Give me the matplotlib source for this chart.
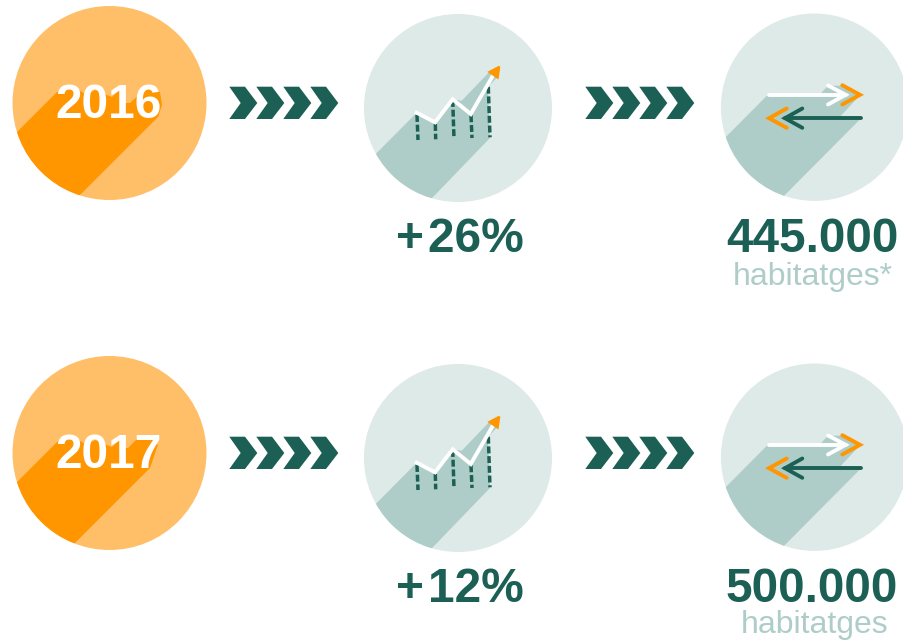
import matplotlib
matplotlib.use('Agg')
import matplotlib.pyplot as plt
from matplotlib.patches import Circle, Polygon

plt.rcParams['font.family'] = ['Liberation Sans', 'DejaVu Sans']

# colours
orange = '#FF9600'
orange_light = '#FFBF69'
green = '#1C6055'
green_light = '#DEEAE8'
green_mid = '#AECDC9'

# text of the two rows
years = ['2016', '2017']
growth = ['+\u200a26%', '+\u200a12%']
homes = ['445.000', '500.000']
homes_label = ['habitatges*', 'habitatges']
label_x = [813, 814.5]
label_y = [285.5, 633.5]

# vertical offset of each row, pixels
row_dy = [0, 350]

# circles: x, y, r
year_circle = (109.5, 103, 97)
chart_circle = (458, 108, 94)
swap_circle = (814.6, 107.2, 93.7)

# long shadows
year_shadow = [
    [(57, 92), (-10, 159), (58.3, 216.7), (158.3, 116.7), (162, 105), (160, 92), (150, 88), (141.7, 92),
     (130, 103), (124, 103), (121.7, 88), (112, 97), (95, 90), (87, 95), (75, 88)],
    [(57, 92), (-10, 159), (50, 218), (150, 118), (158, 95), (150, 88), (138, 88), (128, 98),
     (124, 98), (121.7, 88), (112, 97), (95, 90), (87, 95), (75, 88)],
]
chart_shadow = [(416.7, 112.7), (340, 190), (380, 252), (490, 138), (488, 87), (498.5, 76), (489.3, 72),
                (461.7, 100.7), (452.7, 99.3), (435, 122.3)]
swap_shadow = [(767.3, 95.3), (700, 163), (770, 210), (860.7, 118.7), (840, 116.7), (860, 95.3),
               (842.3, 85.7), (828, 85.7), (819, 95.3)]

# chevrons
chevron = [(229.3, 86.7), (245, 86.7), (257.3, 103), (245, 119), (229.3, 119), (240.7, 103)]
chevron_step = 27
chevron_groups = [0, 356]

# rising line icon
line_x = [416.7, 435, 452.7, 470.7, 493.3]
line_y = [112.7, 122.3, 99.3, 114, 75]
arrow_head = [(499.3, 66.7), (489.3, 72), (497.7, 77.7)]
bars_top = [(417, 115), (435.3, 124), (452.7, 100), (471, 115.3), (488.3, 86.7)]
bars_bottom = [(418, 140), (435.7, 139.3), (454, 138.7), (472, 138), (490, 137.3)]

# swap icon
white_line = [(769, 95.3), (845.7, 95.3)]
white_head = [(828, 86), (845.7, 95.3), (828, 105)]
orange_right = [(842.3, 85.7), (860, 95.3), (842.3, 105)]
dark_line = [(860.7, 118.7), (785, 118.7)]
dark_head = [(802.3, 109), (785, 118.7), (802.3, 128.3)]
orange_left = [(786.7, 109), (769, 118.7), (786.7, 128.3)]

fig = plt.figure(figsize=(9.04, 6.41), dpi=100)
ax = fig.add_axes([0, 0, 1, 1])
ax.set_xlim(0, 904)
ax.set_ylim(641, 0)
ax.axis('off')


def shift(points, dx, dy):
    return [(x + dx, y + dy) for x, y in points]


def disc(spec, dy, face, shadow_pts, shadow_col):
    c = Circle((spec[0], spec[1] + dy), spec[2], fc=face, ec='none', zorder=1)
    ax.add_patch(c)
    s = Polygon(shift(shadow_pts, 0, dy), closed=True, fc=shadow_col, ec='none', zorder=2)
    ax.add_patch(s)
    s.set_clip_path(c)


def stroke(points, dy, col, lw=2.8, z=4):
    ax.plot([p[0] for p in points], [p[1] + dy for p in points], color=col, lw=lw,
            solid_capstyle='round', solid_joinstyle='miter', zorder=z)


for i, dy in enumerate(row_dy):
    disc(year_circle, dy, orange_light, year_shadow[i], orange)
    disc(chart_circle, dy, green_light, chart_shadow, green_mid)
    disc(swap_circle, dy, green_light, swap_shadow, green_mid)

    ax.text(109, 118 + dy, years[i], color='white', fontsize=34.5, fontweight='bold',
            ha='center', va='baseline', zorder=5)

    for dx in chevron_groups:
        for k in range(4):
            ax.add_patch(Polygon(shift(chevron, dx + k * chevron_step, dy), closed=True,
                                 fc=green, ec='none', zorder=3))

    # chart icon
    for top, bottom in zip(bars_top, bars_bottom):
        ax.plot([top[0], bottom[0]], [top[1] + dy, bottom[1] + dy], color=green, lw=2.5,
                linestyle=(0, (2.0, 0.8)), zorder=3)
    ax.plot(line_x, [y + dy for y in line_y], color='white', lw=2.8, solid_joinstyle='miter', zorder=4)
    ax.add_patch(Polygon(shift(arrow_head, 0, dy), closed=True, fc=orange, ec=orange, lw=1.5, zorder=5))

    # swap icon
    stroke(white_line, dy - 0.5, 'white')
    stroke(white_head, dy - 0.5, 'white')
    stroke(orange_right, dy - 0.5, orange)
    stroke(dark_line, dy - 0.5, green)
    stroke(dark_head, dy - 0.5, green)
    stroke(orange_left, dy - 0.5, orange)

    ax.text(459.5, 252 + dy, growth[i], color=green, fontsize=34.5, fontweight='bold',
            ha='center', va='baseline', zorder=5)
    ax.text(812, 252.5 + dy, homes[i], color=green, fontsize=34.3, fontweight='bold',
            ha='center', va='baseline', zorder=5)
    ax.text(label_x[i], label_y[i], homes_label[i], color=green_mid, fontsize=23,
            ha='center', va='baseline', zorder=5)

fig.savefig('out.png', dpi=100)
